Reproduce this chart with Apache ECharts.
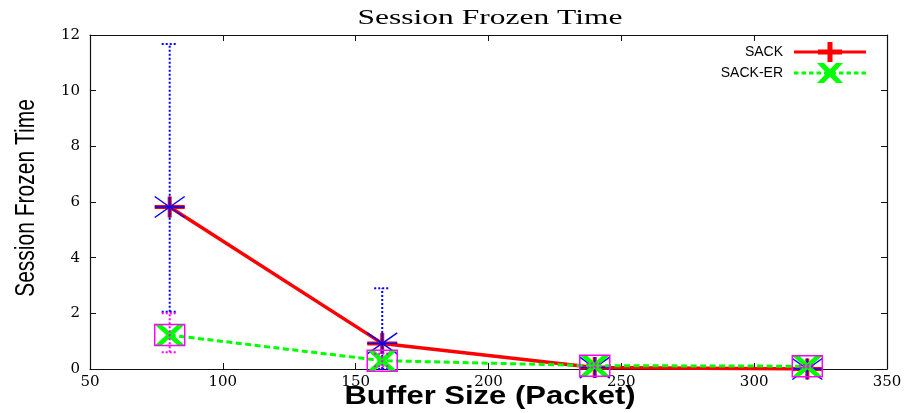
<!DOCTYPE html>
<html>
<head>
<meta charset="utf-8">
<script src="https://cdn.jsdelivr.net/npm/echarts@6/dist/echarts.min.js"></script>
<style>
  html, body { margin: 0; padding: 0; background: #fff; }
  #chart { width: 912px; height: 413px; }
</style>
</head>
<body>
<div id="chart"></div>
<script>
// Buffer sizes (packets) on the x axis
const bufferSizes = [80, 160, 240, 320];

// Mean session frozen time per buffer size
const sackMean   = [5.82, 0.92, 0.05, 0.0];
const sackErMean = [1.22, 0.30, 0.12, 0.10];

// Error bar ranges (low / high)
const sackLow    = [2.06, 0.0, 0.0, 0.0];
const sackHigh   = [11.68, 2.90, 0.20, 0.10];
const sackErLow  = [0.60, 0.10, 0.05, 0.05];
const sackErHigh = [2.00, 0.55, 0.20, 0.15];

// Axis ticks
const xTicks = { min: 50, max: 350, step: 50 };
const yTicks = { min: 0, max: 12, step: 2 };

const seriesNames = ['SACK', 'SACK-ER'];

// Marker shapes (filled paths)
const plusPath = 'path://M0 8.5H30V12.5H0Z M13 0H17V21H13Z';
const crossPath = 'path://M0 0H7L30 21H23Z M23 0H30L7 21H0Z';

// Legend icons: line with the series marker in the middle (72 x 20 box)
const sackLegendIcon = 'path://M0 8.5H72V11.5H0Z M24 7.5H48V12.5H24Z M33.5 0H38.5V20H33.5Z';
const sackErLegendIcon = (function () {
  let d = '';
  for (let x = 0; x < 72; x += 7.5) {
    const w = Math.min(4.5, 72 - x);
    d += 'M' + x + ' 8.5H' + (x + w) + 'V11.5H' + x + 'Z ';
  }
  d += 'M23 0H30L49 20H42Z M42 0H49L30 20H23Z';
  return 'path://' + d;
})();

function zipPoints(xs, ys) {
  return xs.map((x, i) => [x, ys[i]]);
}
function zipErrors(xs, ys, lo, hi) {
  return xs.map((x, i) => [x, ys[i], lo[i], hi[i]]);
}

// Error bar with dotted stem and caps, plus a point marker at the mean
function errorBarRenderer(color, marker) {
  return function (params, api) {
    const x = api.value(0);
    const c = api.coord([x, api.value(1)]);
    const lo = api.coord([x, api.value(2)]);
    const hi = api.coord([x, api.value(3)]);
    const cap = 8;
    const dotted = { stroke: color, lineWidth: 2, lineDash: [2, 2], fill: null };
    const children = [
      { type: 'line', shape: { x1: c[0], y1: lo[1], x2: c[0], y2: hi[1] }, style: dotted },
      { type: 'line', shape: { x1: c[0] - cap, y1: hi[1], x2: c[0] + cap, y2: hi[1] }, style: dotted },
      { type: 'line', shape: { x1: c[0] - cap, y1: lo[1], x2: c[0] + cap, y2: lo[1] }, style: dotted }
    ];
    const hw = 15, hh = 10.5;
    const solid = { stroke: color, lineWidth: 1.5, fill: null };
    if (marker === 'star') {
      children.push(
        { type: 'line', shape: { x1: c[0] - hw, y1: c[1], x2: c[0] + hw, y2: c[1] }, style: solid },
        { type: 'line', shape: { x1: c[0], y1: c[1] - hh, x2: c[0], y2: c[1] + hh }, style: solid },
        { type: 'line', shape: { x1: c[0] - hw, y1: c[1] - hh, x2: c[0] + hw, y2: c[1] + hh }, style: solid },
        { type: 'line', shape: { x1: c[0] - hw, y1: c[1] + hh, x2: c[0] + hw, y2: c[1] - hh }, style: solid }
      );
    } else {
      children.push({ type: 'rect', shape: { x: c[0] - hw, y: c[1] - hh, width: hw * 2, height: hh * 2 }, style: solid });
    }
    return { type: 'group', children: children };
  };
}

const chart = echarts.init(document.getElementById('chart'), null, { renderer: 'canvas' });

const axisLineStyle = { color: '#111', width: 1.2 };
const tickStyle = { show: true, inside: true, length: 6, lineStyle: { color: '#111', width: 1 } };
const tickFont = { fontFamily: '"DejaVu Serif"', fontSize: 15, color: '#000' };

chart.setOption({
  animation: false,
  backgroundColor: '#fff',
  grid: { left: 90, right: 25, top: 35, bottom: 44, containLabel: false },
  xAxis: [
    {
      type: 'value', min: xTicks.min, max: xTicks.max, interval: xTicks.step,
      position: 'bottom',
      axisLine: { show: true, onZero: false, lineStyle: axisLineStyle },
      axisTick: tickStyle,
      axisLabel: Object.assign({ margin: 6 }, tickFont),
      splitLine: { show: false }
    },
    {
      type: 'value', min: xTicks.min, max: xTicks.max, interval: xTicks.step,
      position: 'top',
      axisLine: { show: true, onZero: false, lineStyle: axisLineStyle },
      axisTick: tickStyle,
      axisLabel: { show: false },
      splitLine: { show: false }
    }
  ],
  yAxis: [
    {
      type: 'value', min: yTicks.min, max: yTicks.max, interval: yTicks.step,
      position: 'left',
      axisLine: { show: true, onZero: false, lineStyle: axisLineStyle },
      axisTick: tickStyle,
      axisLabel: Object.assign({ margin: 10 }, tickFont),
      splitLine: { show: false }
    },
    {
      type: 'value', min: yTicks.min, max: yTicks.max, interval: yTicks.step,
      position: 'right',
      axisLine: { show: true, onZero: false, lineStyle: axisLineStyle },
      axisTick: tickStyle,
      axisLabel: { show: false },
      splitLine: { show: false }
    }
  ],
  legend: {
    orient: 'vertical',
    right: 41,
    top: 37,
    align: 'right',
    itemWidth: 72,
    itemHeight: 20,
    itemGap: 1,
    selectedMode: false,
    itemStyle: { borderWidth: 0 },
    textStyle: { fontFamily: '"Liberation Sans", Arial, sans-serif', fontSize: 14, color: '#000', padding: [0, 6, 0, 0] },
    data: [
      { name: seriesNames[0], icon: sackLegendIcon },
      { name: seriesNames[1], icon: sackErLegendIcon }
    ]
  },
  graphic: [
    {
      type: 'text', x: 490, y: 18, scaleX: 1.5, z: 10,
      style: { text: 'Session Frozen Time', fontFamily: '"Liberation Serif", serif', fontSize: 21,
               fill: '#000', align: 'center', verticalAlign: 'middle' }
    },
    {
      type: 'text', x: 26, y: 198, rotation: Math.PI / 2, scaleY: 1.34, z: 10,
      style: { text: 'Session Frozen Time', fontFamily: '"Liberation Sans", Arial, sans-serif', fontSize: 21,
               fill: '#000', align: 'center', verticalAlign: 'middle' }
    },
    {
      type: 'text', x: 490, y: 397, scaleX: 1.24, z: 10,
      style: { text: 'Buffer Size (Packet)', fontFamily: '"Liberation Sans", Arial, sans-serif', fontSize: 25,
               fontWeight: 'bold', fill: '#000', align: 'center', verticalAlign: 'middle' }
    }
  ],
  series: [
    {
      name: seriesNames[0],
      type: 'line',
      z: 2,
      data: zipPoints(bufferSizes, sackMean),
      symbol: plusPath,
      symbolSize: [30, 21],
      showAllSymbol: true,
      itemStyle: { color: '#ff0000', borderWidth: 0 },
      lineStyle: { color: '#ff0000', width: 3.5 },
      emphasis: { disabled: true }
    },
    {
      name: 'SACK error',
      type: 'custom',
      z: 3,
      data: zipErrors(bufferSizes, sackMean, sackLow, sackHigh),
      encode: { x: 0, y: 1 },
      renderItem: errorBarRenderer('#0000ff', 'star'),
      silent: true
    },
    {
      name: seriesNames[1],
      type: 'line',
      z: 4,
      data: zipPoints(bufferSizes, sackErMean),
      symbol: crossPath,
      symbolSize: [30, 21],
      showAllSymbol: true,
      itemStyle: { color: '#00ff00', borderWidth: 0 },
      lineStyle: { color: '#00ff00', width: 3, type: [6, 3.5] },
      emphasis: { disabled: true }
    },
    {
      name: 'SACK-ER error',
      type: 'custom',
      z: 5,
      data: zipErrors(bufferSizes, sackErMean, sackErLow, sackErHigh),
      encode: { x: 0, y: 1 },
      renderItem: errorBarRenderer('#ff00ff', 'box'),
      silent: true
    }
  ]
});
</script>
</body>
</html>
